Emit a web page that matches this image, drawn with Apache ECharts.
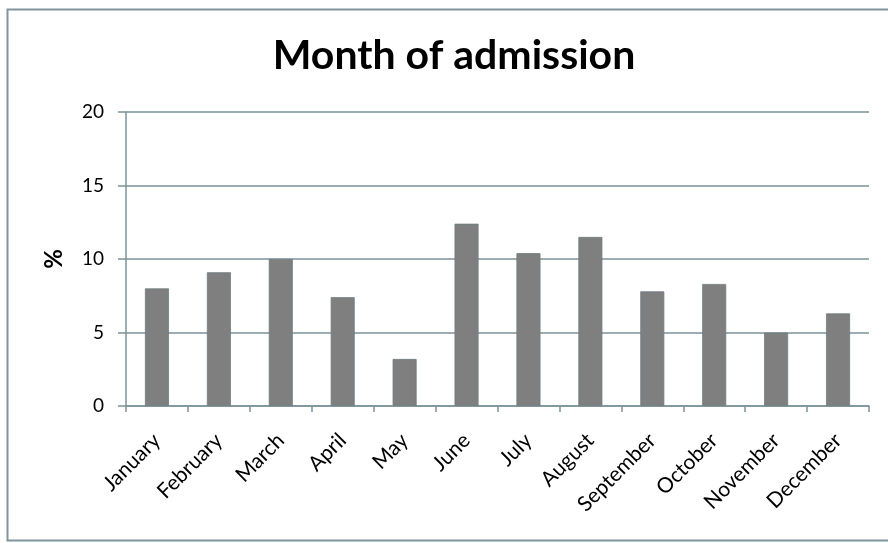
<!DOCTYPE html>
<html>
<head>
<meta charset="utf-8">
<script src="https://cdn.jsdelivr.net/npm/echarts@6/dist/echarts.min.js"></script>
<style>
html,body{margin:0;padding:0;background:#fff;}
#c{width:888px;height:543px;}
</style>
</head>
<body>
<div id="c"></div>
<script>
const months = ["January","February","March","April","May","June","July","August","September","October","November","December"];
const percentValues = [8.0, 9.1, 10.0, 7.4, 3.2, 12.4, 10.4, 11.5, 7.8, 8.3, 5.0, 6.3];
const yTicks = [0, 5, 10, 15, 20];

const chart = echarts.init(document.getElementById('c'));
chart.setOption({
  backgroundColor: '#fff',
  animation: false,
  graphic: [{
    type: 'rect',
    shape: {x: 7.5, y: 9.5, width: 884, height: 531},
    style: {fill: 'none', stroke: '#7f959b', lineWidth: 2},
    silent: true
  }],
  title: {
    text: 'Month of admission',
    left: 449, top: 30, textAlign: 'center',
    textStyle: {fontFamily: 'Lato', fontWeight: 'bold', fontSize: 41, color: '#000'}
  },
  grid: {left: 126, right: 19, top: 112, bottom: 137},
  xAxis: {
    type: 'category',
    data: months,
    boundaryGap: true,
    axisLine: {lineStyle: {color: '#7b939b', width: 1.5}},
    axisTick: {show: true, length: 6, alignWithLabel: false, lineStyle: {color: '#7b939b', width: 1.5}},
    axisLabel: {rotate: 45, fontFamily: 'Lato', fontSize: 21, color: '#000', margin: 31, interval: 0}
  },
  yAxis: {
    type: 'value',
    min: yTicks[0], max: yTicks[yTicks.length - 1], interval: 5,
    name: '%',
    nameLocation: 'middle',
    nameGap: 60,
    nameRotate: 90,
    nameTextStyle: {fontFamily: 'Lato', fontWeight: 'bold', fontSize: 24, color: '#000'},
    axisLine: {show: true, lineStyle: {color: '#7b939b', width: 1.5}},
    axisTick: {show: true, length: 8, lineStyle: {color: '#7b939b', width: 1.5}},
    axisLabel: {fontFamily: 'Lato', fontSize: 19, color: '#000', margin: 22},
    splitLine: {show: true, lineStyle: {color: '#7b939b', width: 1.5}}
  },
  series: [{
    type: 'bar',
    data: percentValues,
    barWidth: 24,
    itemStyle: {color: '#7f7f7f', borderColor: '#6f7c80', borderWidth: 0.8}
  }]
});
</script>
</body>
</html>
